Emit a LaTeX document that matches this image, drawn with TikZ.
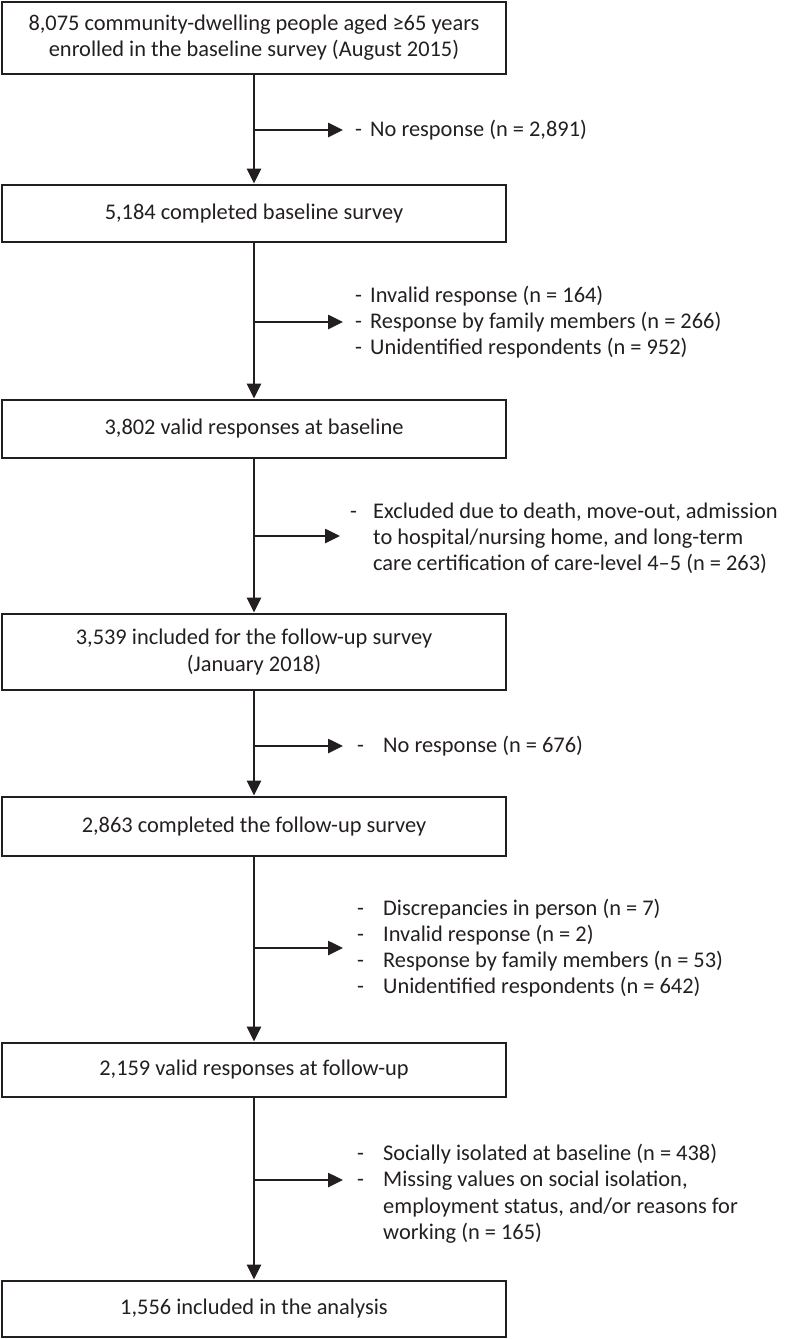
\documentclass[tikz,border=0pt]{standalone}
\usepackage{fontspec}
\setmainfont{Carlito}
\usetikzlibrary{arrows.meta}

\definecolor{ink}{HTML}{231F20}
\newcommand{\dsh}[1][15pt]{\makebox[#1][l]{-}}

\begin{document}
\begin{tikzpicture}[
  x=1pt, y=-1pt,
  font=\fontsize{22.4}{26.2}\selectfont,
  >=Triangle,
  box/.style={draw=ink, line width=2.8pt, text=ink, align=center,
    minimum width=504pt, inner sep=0pt},
  excl/.style={anchor=west, text=ink, align=left, inner sep=0pt},
  arr/.style={-{Triangle[length=15pt, width=14pt]}, draw=ink, line width=2.6pt},
]
  \useasboundingbox (0,0) rectangle (787,1339);

  % ===== main boxes =====
  \node[box, minimum height=72pt] (enrol) at (254,38)
    {8,075 community-dwelling people aged ≥65 years\\enrolled in the baseline survey (August 2015)};
  \node[box, minimum height=57pt] (base) at (254,213.5)
    {5,184 completed baseline survey};
  \node[box, minimum height=58pt] (valid) at (254,429)
    {3,802 valid responses at baseline};
  \node[box, minimum height=76pt] (follow) at (254,652)
    {3,539 included for the follow-up survey\\(January 2018)};
  \node[box, minimum height=59pt] (done) at (254,826.5)
    {2,863 completed the follow-up survey};
  \node[box, minimum height=54pt] (fvalid) at (254,1070)
    {2,159 valid responses at follow-up};
  \node[box, minimum height=56pt] (final) at (254,1309)
    {1,556 included in the analysis};

  % ===== exclusions =====
  \coordinate (t1) at (343,130);
  \coordinate (t2) at (343,322);
  \coordinate (t3) at (340,536);
  \coordinate (t4) at (343,746);
  \coordinate (t5) at (343,948);
  \coordinate (t6) at (343,1180);

  \node[excl] (x1) at (355,130) {\dsh No response (n = 2,891)};
  \node[excl] (x2) at (355,322) {\dsh Invalid response (n = 164)\\
    \dsh Response by family members (n = 266)\\
    \dsh Unidentified respondents (n = 952)};
  \node[excl] (x3) at (350,538) {\dsh[23pt]Excluded due to death, move-out, admission\\
    \hspace*{23pt}to hospital/nursing home, and long-term\\
    \hspace*{23pt}care certification of care-level 4--5 (n = 263)};
  \node[excl] (x4) at (357,746) {\dsh[26pt]No response (n = 676)};
  \node[excl] (x5) at (357,948) {\dsh[26pt]Discrepancies in person (n = 7)\\
    \dsh[26pt]Invalid response (n = 2)\\
    \dsh[26pt]Response by family members (n = 53)\\
    \dsh[26pt]Unidentified respondents (n = 642)};
  \node[excl, anchor=north west] (x6) at (357,1144) {\dsh[26pt]Socially isolated at baseline (n = 438)\\
    \dsh[26pt]Missing values on social isolation,\\
    \hspace*{26pt}employment status, and/or reasons for\\
    \hspace*{26pt}working (n = 165)};

  % ===== connectors =====
  \draw[arr] (enrol) -- (base);
  \draw[arr] (base) -- (valid);
  \draw[arr] (valid) -- (follow);
  \draw[arr] (follow) -- (done);
  \draw[arr] (done) -- (fvalid);
  \draw[arr] (fvalid) -- (final);

  \draw[arr] (enrol.south |- t1) -- (t1);
  \draw[arr] (base.south |- t2) -- (t2);
  \draw[arr] (valid.south |- t3) -- (t3);
  \draw[arr] (follow.south |- t4) -- (t4);
  \draw[arr] (done.south |- t5) -- (t5);
  \draw[arr] (fvalid.south |- t6) -- (t6);
\end{tikzpicture}
\end{document}
